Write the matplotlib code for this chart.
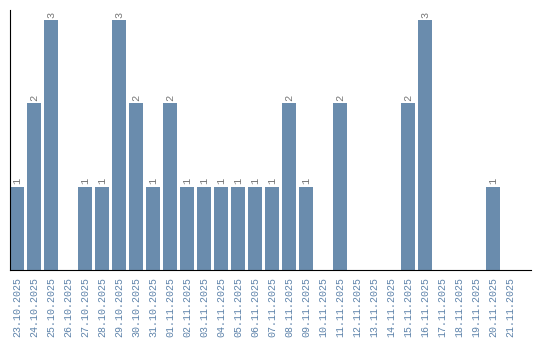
import matplotlib
matplotlib.use("Agg")
import matplotlib.pyplot as plt

dates = ['23.10.2025', '24.10.2025', '25.10.2025', '26.10.2025', '27.10.2025',
         '28.10.2025', '29.10.2025', '30.10.2025', '31.10.2025', '01.11.2025',
         '02.11.2025', '03.11.2025', '04.11.2025', '05.11.2025', '06.11.2025',
         '07.11.2025', '08.11.2025', '09.11.2025', '10.11.2025', '11.11.2025',
         '12.11.2025', '13.11.2025', '14.11.2025', '15.11.2025', '16.11.2025',
         '17.11.2025', '18.11.2025', '19.11.2025', '20.11.2025', '21.11.2025']
counts = [1, 2, 3, 0, 1, 1, 3, 2, 1, 2,
          1, 1, 1, 1, 1, 1, 2, 1, 0, 2,
          0, 0, 0, 2, 3, 0, 0, 0, 1, 0]

bar_color = '#6a8cad'
label_color = '#5f84ab'
width = 14 / 17

fig = plt.figure(figsize=(5.4, 3.4), dpi=100)
ax = fig.add_axes([10 / 540, 70 / 340, 521 / 540, 260 / 340])

x = list(range(len(dates)))
ax.bar(x, counts, width=width, align='edge', color=bar_color)

# value labels above non-empty bars
for i, c in enumerate(counts):
    if c > 0:
        ax.text(i + width / 2, c + 0.03, str(c), rotation=90, ha='center', va='bottom',
                fontsize=7.5, color='#777777', family='Liberation Mono')

ax.set_xlim(0, 521 / 17)
ax.set_ylim(0, 3.12)
ax.set_xticks([i + width / 2 for i in x])
ax.set_xticklabels(dates, rotation=90, fontsize=7.2, color=label_color,
                   family='Liberation Mono')
ax.tick_params(axis='x', length=0, pad=5)
ax.set_yticks([])
ax.spines['top'].set_visible(False)
ax.spines['right'].set_visible(False)
ax.spines['left'].set_color('black')
ax.spines['bottom'].set_color('black')

fig.savefig('out.png', dpi=100)
